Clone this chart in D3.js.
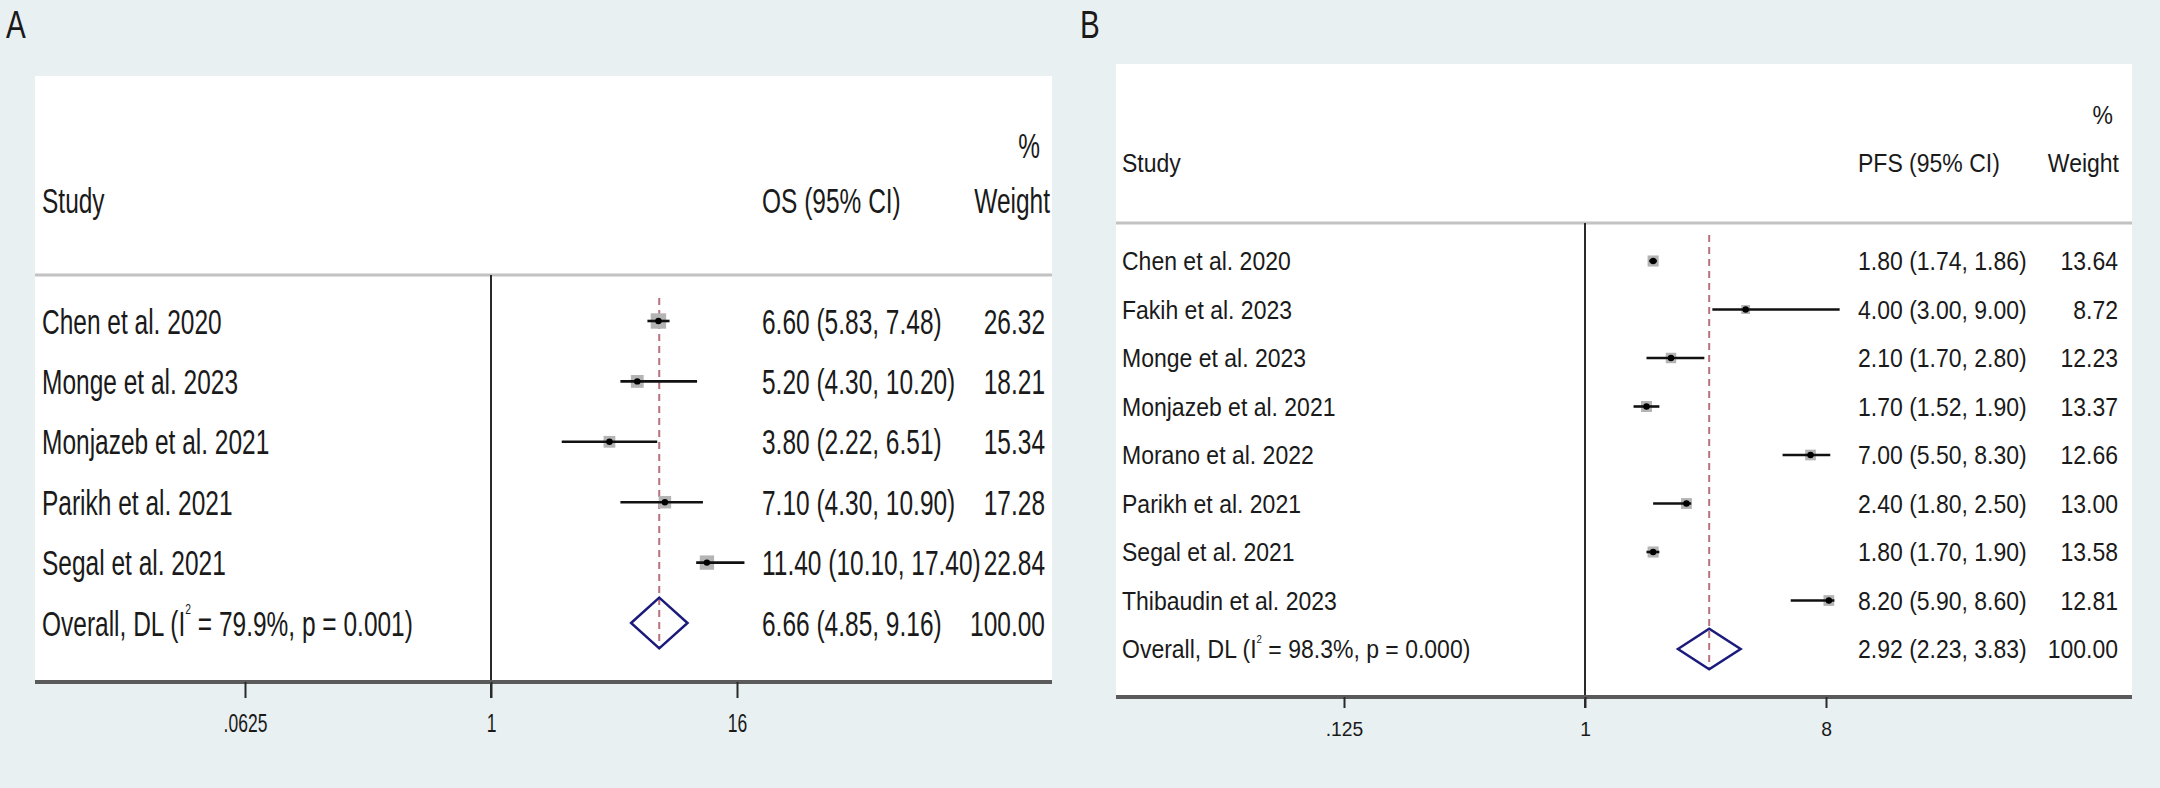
<!DOCTYPE html>
<html>
<head>
<meta charset="utf-8">
<script src="https://cdn.jsdelivr.net/npm/d3@7"></script>
<style>
  html, body { margin: 0; padding: 0; background: #e8f0f2; }
  svg { display: block; }
  text { font-family: "Liberation Sans", Arial, Helvetica, sans-serif; fill: #1a1a1a; }
</style>
</head>
<body>
<svg id="chart" width="2160" height="788"></svg>
<script>
// ---- panel A : OS ----
const studiesA = ["Chen et al. 2020", "Monge et al. 2023", "Monjazeb et al. 2021", "Parikh et al. 2021", "Segal et al. 2021"];
const estA     = [6.60, 5.20, 3.80, 7.10, 11.40];
const lowA     = [5.83, 4.30, 2.22, 4.30, 10.10];
const highA    = [7.48, 10.20, 6.51, 10.90, 17.40];
const weightA  = [26.32, 18.21, 15.34, 17.28, 22.84];
const overallA = [6.66, 4.85, 9.16];          // estimate, low, high
const hetA     = ["79.9%", "0.001"];           // I^2, p
const ticksA      = [0.0625, 1, 16];
const tickLabelsA = [".0625", "1", "16"];

// ---- panel B : PFS ----
const studiesB = ["Chen et al. 2020", "Fakih et al. 2023", "Monge et al. 2023", "Monjazeb et al. 2021", "Morano et al. 2022", "Parikh et al. 2021", "Segal et al. 2021", "Thibaudin et al. 2023"];
const estB     = [1.80, 4.00, 2.10, 1.70, 7.00, 2.40, 1.80, 8.20];
const lowB     = [1.74, 3.00, 1.70, 1.52, 5.50, 1.80, 1.70, 5.90];
const highB    = [1.86, 9.00, 2.80, 1.90, 8.30, 2.50, 1.90, 8.60];
const weightB  = [13.64, 8.72, 12.23, 13.37, 12.66, 13.00, 13.58, 12.81];
const overallB = [2.92, 2.23, 3.83];
const hetB     = ["98.3%", "0.000"];
const ticksB      = [0.125, 1, 8];
const tickLabelsB = [".125", "1", "8"];

const fmt = d3.format(".2f");

// layout of each pasted stata panel
const panels = [
  { tag: "A", tagX: 6, measure: "OS (95% CI)",
    studies: studiesA, est: estA, low: lowA, high: highA, weight: weightA, overall: overallA, het: hetA,
    ticks: ticksA, tickLabels: tickLabelsA,
    domain: [1 / 16, 16], range: [245, 737],
    left: 35, right: 1052, top: 76, headY: 275, axisY: 682,
    pctY: 145, headTxtY: 200, row0: 321, step: 60.4, dashTop: 298,
    fs: 35, sx: 0.70, labelX: 42, ciX: 762, wX: 1045, wHeadX: 1050, pctX: 1040,
    tickSize: 16, tickFs: 25, tickPad: 16 },
  { tag: "B", tagX: 1080, measure: "PFS (95% CI)",
    studies: studiesB, est: estB, low: lowB, high: highB, weight: weightB, overall: overallB, het: hetB,
    ticks: ticksB, tickLabels: tickLabelsB,
    domain: [1 / 8, 8], range: [1344, 1826],
    left: 1116, right: 2132, top: 64, headY: 223, axisY: 697,
    pctY: 115, headTxtY: 163, row0: 261, step: 48.5, dashTop: 235,
    fs: 25, sx: 0.92, labelX: 1122, ciX: 1858, wX: 2118, wHeadX: 2119, pctX: 2113,
    tickSize: 11, tickFs: 21, tickPad: 13 }
];

const svg = d3.select("#chart");

svg.append("rect").attr("width", 2160).attr("height", 788).attr("fill", "#e8f0f2");

function drawPanel(p) {
  const g = svg.append("g");
  const x = d3.scaleLog().base(2).domain(p.domain).range(p.range);
  const y = i => p.row0 + i * p.step;
  const n = p.studies.length;

  const rows = d3.range(n).map(i => ({
    name: p.studies[i], est: p.est[i], low: p.low[i], high: p.high[i], w: p.weight[i], i: i
  }));

  // squeezed text like the resized picture
  const txt = (s, tx, ty, anchor, fs) => g.append("text")
      .attr("transform", "translate(" + tx + "," + ty + ") scale(" + p.sx + ",1)")
      .attr("text-anchor", anchor || "start")
      .style("font-size", (fs || p.fs) + "px")
      .text(s);
  const base = cy => cy + 0.36 * p.fs;

  // letter tag
  svg.append("text")
      .attr("transform", "translate(" + p.tagX + ",38) scale(0.78,1)")
      .style("font-size", "38px")
      .text(p.tag);

  // plot region
  g.append("rect")
      .attr("x", p.left).attr("y", p.top)
      .attr("width", p.right - p.left).attr("height", p.axisY - p.top)
      .attr("fill", "#fff");

  // header
  txt("%", p.pctX, base(p.pctY), "end");
  txt("Study", p.labelX, base(p.headTxtY));
  txt(p.measure, p.ciX, base(p.headTxtY));
  txt("Weight", p.wHeadX, base(p.headTxtY), "end");

  g.append("line")
      .attr("x1", p.left).attr("x2", p.right)
      .attr("y1", p.headY).attr("y2", p.headY)
      .attr("stroke", "#c2c2c2").attr("stroke-width", 3);

  // line of no effect
  g.append("line")
      .attr("x1", x(1)).attr("x2", x(1))
      .attr("y1", p.headY).attr("y2", p.axisY + p.tickSize)
      .attr("stroke", "#2a2a2a").attr("stroke-width", 2);

  // overall dashed line
  const yo = y(n);
  const dh = 0.42 * p.step;
  g.append("line")
      .attr("x1", x(p.overall[0])).attr("x2", x(p.overall[0]))
      .attr("y1", p.dashTop).attr("y2", yo + dh)
      .attr("stroke", "#b9727e").attr("stroke-width", 2)
      .attr("stroke-dasharray", "7,5");

  // weight boxes
  g.selectAll(".box").data(rows).enter().append("rect")
      .attr("class", "box")
      .attr("x", d => x(d.est) - 1.5 * Math.sqrt(d.w))
      .attr("y", d => y(d.i) - 1.5 * Math.sqrt(d.w))
      .attr("width", d => 3 * Math.sqrt(d.w))
      .attr("height", d => 3 * Math.sqrt(d.w))
      .attr("fill", "#b4b4b4");

  // confidence intervals
  g.selectAll(".ci").data(rows).enter().append("line")
      .attr("class", "ci")
      .attr("x1", d => x(d.low)).attr("x2", d => x(d.high))
      .attr("y1", d => y(d.i)).attr("y2", d => y(d.i))
      .attr("stroke", "#111").attr("stroke-width", 2.6);

  g.selectAll(".pt").data(rows).enter().append("circle")
      .attr("class", "pt")
      .attr("cx", d => x(d.est)).attr("cy", d => y(d.i))
      .attr("r", 3.2).attr("fill", "#000");

  // pooled diamond
  const ox = p.overall;
  g.append("path")
      .attr("d", "M" + x(ox[1]) + "," + yo + "L" + x(ox[0]) + "," + (yo - dh) +
                 "L" + x(ox[2]) + "," + yo + "L" + x(ox[0]) + "," + (yo + dh) + "Z")
      .attr("fill", "none").attr("stroke", "#1b1b7c").attr("stroke-width", 2.5);

  // study columns
  rows.forEach(d => {
    txt(d.name, p.labelX, base(y(d.i)));
    txt(fmt(d.est) + " (" + fmt(d.low) + ", " + fmt(d.high) + ")", p.ciX, base(y(d.i)));
    txt(fmt(d.w), p.wX, base(y(d.i)), "end");
  });

  // overall row
  const ov = txt("", p.labelX, base(yo));
  ov.append("tspan").text("Overall, DL (I");
  ov.append("tspan").attr("dy", -0.62 * p.fs).style("font-size", (0.42 * p.fs) + "px").text("2");
  ov.append("tspan").attr("dy", 0.62 * p.fs).text(" = " + p.het[0] + ", p = " + p.het[1] + ")");
  txt(fmt(ox[0]) + " (" + fmt(ox[1]) + ", " + fmt(ox[2]) + ")", p.ciX, base(yo));
  txt("100.00", p.wX, base(yo), "end");

  // x axis
  g.append("line")
      .attr("x1", p.left).attr("x2", p.right)
      .attr("y1", p.axisY).attr("y2", p.axisY)
      .attr("stroke", "#5a5a5a").attr("stroke-width", 4);

  const axis = d3.axisBottom(x)
      .tickValues(p.ticks)
      .tickFormat((d, i) => p.tickLabels[i])
      .tickSize(p.tickSize)
      .tickPadding(p.tickPad);

  const ag = g.append("g")
      .attr("transform", "translate(0," + p.axisY + ")")
      .call(axis);
  ag.select(".domain").remove();
  ag.selectAll(".tick line").attr("stroke", "#2a2a2a").attr("stroke-width", 2);
  ag.selectAll(".tick text")
      .attr("transform", "scale(" + p.sx + ",1)")
      .style("font-size", p.tickFs + "px")
      .style("font-family", "'Liberation Sans', Arial, sans-serif")
      .attr("fill", "#1a1a1a");
}

panels.forEach(drawPanel);
</script>
</body>
</html>
